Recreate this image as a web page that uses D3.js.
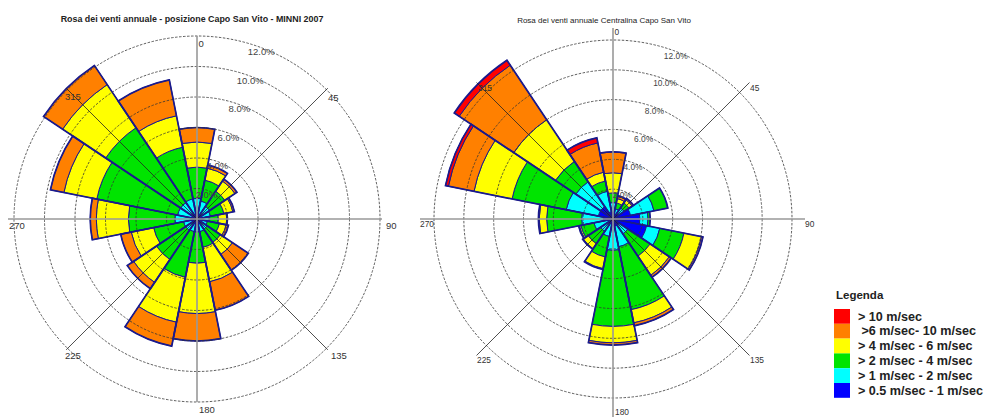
<!DOCTYPE html>
<html>
<head>
<meta charset="utf-8">
<script src="https://cdn.jsdelivr.net/npm/d3@7"></script>
<style>
  body { margin: 0; background: #fff; }
  svg { font-family: Arial, "Liberation Sans", sans-serif; }
</style>
</head>
<body>
<svg id="chart" width="988" height="417"></svg>
<script>
// wind directions (deg) and speed classes
const directions = [0, 22.5, 45, 67.5, 90, 112.5, 135, 157.5, 180, 202.5, 225, 247.5, 270, 292.5, 315, 337.5];
const classKeys = ['blue', 'cyan', 'green', 'yellow', 'orange', 'red'];
const classColors = ['#0000ff', '#00ffff', '#00e400', '#ffff00', '#ff8000', '#ff0000'];
const legendLabels = ['> 10 m/sec', ' >6 m/sec- 10 m/sec', '> 4 m/sec - 6 m/sec', '> 2 m/sec - 4 m/sec', '> 1 m/sec - 2 m/sec', '> 0.5 m/sec - 1 m/sec'];
const legendColors = ['#ff0000', '#ff8000', '#ffff00', '#00e400', '#00ffff', '#0000ff'];
const ringValues = [2, 4, 6, 8, 10, 12];
const ringLabels = ['2.0%', '4.0%', '6.0%', '8.0%', '10.0%', '12.0%'];

// left rose: MINNI 2007 (% per class, per direction)
const minniBlue   = [0.15, 0.15, 0.15, 0.15, 0.15, 0.15, 0.15, 0.15, 0.15, 0.15, 0.15, 0.15, 0.15, 0.15, 0.15, 0.15];
const minniCyan   = [1.2, 1.05, 0.85, 0.75, 0.65, 0.55, 0.65, 0.7, 0.7, 0.7, 0.75, 0.75, 1.3, 1.15, 1.15, 1.2];
const minniGreen  = [2.05, 1.4, 1.2, 0.9, 0.6, 0.8, 1.05, 1.05, 2.05, 3.05, 2.3, 2.0, 3.05, 5.4, 5.9, 3.45];
const minniYellow = [1.65, 0.8, 0.8, 0.6, 0.55, 0.45, 0.95, 2.3, 3.3, 3.0, 1.8, 1.5, 2.1, 2.2, 3.4, 2.1];
const minniOrange = [0.95, 0.2, 0.15, 0.1, 0.05, 0.15, 1.25, 1.9, 1.8, 1.6, 0.5, 0.7, 0.4, 0.9, 1.5, 2.4];
const minniRed    = [0, 0, 0, 0, 0, 0, 0, 0, 0, 0, 0, 0, 0, 0, 0, 0];

// right rose: Centralina Capo San Vito
const stationBlue   = [0.4, 0.3, 0.4, 1.2, 1.8, 2.3, 0.5, 0.5, 0.4, 0.3, 0.3, 0.3, 0.65, 1.0, 1.0, 0.5];
const stationCyan   = [0.7, 0.4, 0.5, 1.6, 0.55, 0.9, 0.7, 1.4, 1.7, 0.9, 0.7, 1.0, 1.45, 2.2, 2.0, 1.4];
const stationGreen  = [0.65, 0.4, 0.4, 0.95, 0.15, 1.65, 1.8, 4.3, 5.1, 1.4, 1.0, 0.9, 2.35, 3.7, 1.65, 0.7];
const stationYellow = [1.35, 0.3, 0.25, 0, 0, 1.2, 1.55, 0.9, 1.1, 0.8, 0.4, 0.1, 0.5, 2.6, 3.35, 0.6];
const stationOrange = [1.4, 0.15, 0.1, 0, 0, 0.1, 0.15, 0.2, 0.15, 0.05, 0.05, 0.05, 0.05, 1.75, 4.4, 2.0];
const stationRed    = [0, 0.05, 0, 0, 0, 0, 0, 0, 0, 0, 0, 0, 0, 0.2, 0.4, 0.35];

const svg = d3.select('#chart');
const navy = '#1a1a8c';

function buildRows(series) {
  return directions.map((dir, i) => {
    const row = {dir: dir};
    classKeys.forEach((k, j) => { row[k] = series[j][i]; });
    return row;
  });
}

function drawRose(opt) {
  const g = svg.append('g').attr('transform', `translate(${opt.cx},${opt.cy})`);
  const r = d3.scaleLinear().domain([0, 12]).range([0, opt.R]);
  const rows = buildRows(opt.series);
  const stacked = d3.stack().keys(classKeys)(rows);
  const half = 11.25 * Math.PI / 180;
  const rad = d => d * Math.PI / 180;

  const arc = d3.arc()
    .innerRadius(d => r(d[0]))
    .outerRadius(d => r(d[1]))
    .startAngle(d => rad(d.data.dir) - half)
    .endAngle(d => rad(d.data.dir) + half);

  // speed class segments
  stacked.forEach((layer, j) => {
    g.append('g').selectAll('path')
      .data(layer.filter(d => d[1] - d[0] > 0))
      .enter().append('path')
      .attr('d', arc)
      .attr('fill', classColors[j])
      .attr('stroke', navy)
      .attr('stroke-width', 1);
  });

  // outer outline of each sector
  const totals = rows.map(d => ({dir: d.dir, total: d3.sum(classKeys, k => d[k])}));
  g.append('g').selectAll('path')
    .data(totals)
    .enter().append('path')
    .attr('d', d3.arc()
      .innerRadius(0)
      .outerRadius(d => r(d.total))
      .startAngle(d => rad(d.dir) - half)
      .endAngle(d => rad(d.dir) + half))
    .attr('fill', 'none')
    .attr('stroke', navy)
    .attr('stroke-width', 1.7)
    .attr('stroke-linejoin', 'miter');

  // dashed rings
  g.append('g').selectAll('circle')
    .data(ringValues)
    .enter().append('circle')
    .attr('r', d => r(d))
    .attr('fill', 'none')
    .attr('stroke', '#333')
    .attr('stroke-width', 0.8)
    .attr('stroke-dasharray', '2.5,1.5');

  // diagonal spokes
  [45, 135, 225, 315].forEach(a => {
    g.append('line')
      .attr('x1', 0).attr('y1', 0)
      .attr('x2', Math.sin(rad(a)) * opt.spoke)
      .attr('y2', -Math.cos(rad(a)) * opt.spoke)
      .attr('stroke', '#222')
      .attr('stroke-width', 0.8);
  });

  // main axes
  g.append('line').attr('x1', 0).attr('x2', 0)
    .attr('y1', -opt.axisTop).attr('y2', opt.axisBottom)
    .attr('stroke', '#999').attr('stroke-width', 1.6);
  g.append('line').attr('y1', 0).attr('y2', 0)
    .attr('x1', -opt.axisLeft).attr('x2', opt.axisRight)
    .attr('stroke', '#999').attr('stroke-width', 1.6);

  // ring labels
  g.append('g').selectAll('text')
    .data(ringValues)
    .enter().append('text')
    .attr('x', d => Math.sin(rad(21)) * (r(d) - 4))
    .attr('y', d => -Math.cos(rad(21)) * (r(d) - 4))
    .attr('text-anchor', 'middle')
    .attr('dy', '0.35em')
    .attr('font-size', opt.labelSize)
    .attr('fill', '#444')
    .text((d, i) => ringLabels[i]);

  // direction labels
  opt.dirLabels.forEach(l => {
    g.append('text')
      .attr('x', l[1]).attr('y', l[2])
      .attr('font-size', opt.labelSize)
      .attr('fill', '#333')
      .text(l[0]);
  });

  svg.append('text')
    .attr('x', opt.titleX).attr('y', opt.titleY)
    .attr('text-anchor', 'middle')
    .attr('font-size', opt.titleSize)
    .attr('font-weight', opt.titleWeight)
    .attr('fill', '#222')
    .text(opt.title);
}

drawRose({
  cx: 197, cy: 219, R: 183, spoke: 185,
  axisTop: 183, axisBottom: 183, axisLeft: 189, axisRight: 185,
  series: [minniBlue, minniCyan, minniGreen, minniYellow, minniOrange, minniRed],
  labelSize: 9.5,
  dirLabels: [['0', 1.5, -172], ['45', 131, -118], ['90', 189, 10], ['135', 134, 140],
              ['180', 2, 194], ['225', -132, 140], ['270', -188, 10], ['315', -132, -119]],
  title: 'Rosa dei venti annuale - posizione Capo San Vito - MINNI 2007',
  titleX: 192, titleY: 22, titleSize: 8.9, titleWeight: 'bold'
});

drawRose({
  cx: 613, cy: 219, R: 179, spoke: 193,
  axisTop: 191, axisBottom: 200, axisLeft: 193, axisRight: 192,
  series: [stationBlue, stationCyan, stationGreen, stationYellow, stationOrange, stationRed],
  labelSize: 8.4,
  dirLabels: [['0', 1.5, -184.5], ['45', 137, -128], ['90', 192, 8], ['135', 137, 144],
              ['180', 2, 196], ['225', -136, 144], ['270', -193, 8], ['315', -135, -128]],
  title: 'Rosa dei venti annuale Centralina Capo San Vito',
  titleX: 604, titleY: 23, titleSize: 8, titleWeight: 'normal'
});

// legend
const legend = svg.append('g').attr('transform', 'translate(834,290)');
legend.append('text')
  .attr('x', 2).attr('y', 9)
  .attr('font-size', 11.5).attr('font-weight', 'bold').attr('fill', '#222')
  .text('Legenda');
legend.selectAll('rect')
  .data(legendColors)
  .enter().append('rect')
  .attr('x', 0)
  .attr('y', (d, i) => 19 + i * 14.8)
  .attr('width', 16)
  .attr('height', 14.8)
  .attr('fill', d => d);
legend.selectAll('text.item')
  .data(legendLabels)
  .enter().append('text')
  .attr('class', 'item')
  .attr('x', 24)
  .attr('y', (d, i) => 19 + i * 14.8 + 11.5)
  .attr('font-size', 12.6)
  .attr('font-weight', 'bold')
  .attr('fill', '#222')
  .style('white-space', 'pre')
  .text(d => d);
</script>
</body>
</html>
